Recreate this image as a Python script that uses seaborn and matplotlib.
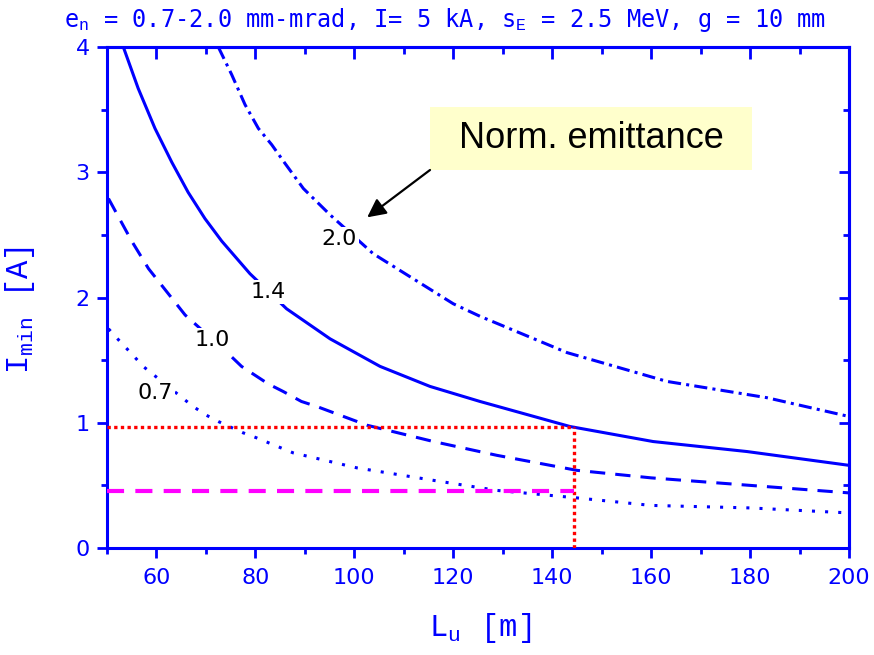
import numpy as np
import pandas as pd
import matplotlib
matplotlib.use("Agg")
import matplotlib.pyplot as plt
import seaborn as sns
from matplotlib.patches import Rectangle
from matplotlib.ticker import MultipleLocator

# ---- data ----
# normalized emittance 1.4 mm-mrad (solid)
L_14 = [53.3, 56.3, 59.7, 63.1, 66.4, 69.8, 73.2, 78.9, 86.3, 95.1, 105.2, 115.3, 125.4, 143.6, 160.4, 179.4, 200.0]
I_14 = [4.00, 3.67, 3.35, 3.08, 2.84, 2.63, 2.45, 2.19, 1.91, 1.67, 1.45, 1.29, 1.17, 0.97, 0.85, 0.77, 0.66]
# 2.0 (dash-dot)
L_20 = [72.5, 75.2, 77.9, 80.6, 83.3, 86.0, 89.7, 95.1, 103.8, 111.9, 120.0, 125.4, 143.0, 163.2, 183.4, 200.0]
I_20 = [4.00, 3.78, 3.54, 3.35, 3.22, 3.07, 2.87, 2.66, 2.35, 2.15, 1.95, 1.85, 1.56, 1.33, 1.20, 1.05]
# 1.0 (dashed)
L_10 = [50.3, 55.0, 58.4, 62.4, 65.8, 74.3, 77.2, 82.6, 85.6, 89.3, 92.4, 98.5, 102.6, 116.0, 128.8, 145.0, 160.0, 180.0, 200.0]
I_10 = [2.79, 2.45, 2.23, 2.03, 1.86, 1.56, 1.45, 1.31, 1.25, 1.17, 1.13, 1.04, 0.98, 0.85, 0.74, 0.62, 0.56, 0.50, 0.44]
# 0.7 (dotted)
L_07 = [50.3, 52.6, 55.0, 57.3, 67.4, 70.1, 72.5, 77.5, 80.2, 87.6, 100.5, 116.0, 128.8, 145.0, 160.0, 180.0, 200.0]
I_07 = [1.75, 1.65, 1.55, 1.45, 1.13, 1.06, 1.01, 0.92, 0.88, 0.76, 0.64, 0.54, 0.46, 0.40, 0.34, 0.32, 0.28]

# reference (operating point) lines
ref_L = [50.0, 144.5]
ref_I_red = [0.97, 0.97]
ref_I_mag = [0.455, 0.455]
ref_vert_L = [144.5, 144.5]
ref_vert_I = [0.0, 0.97]

# curve labels
label_texts = ["2.0", "1.4", "1.0", "0.7"]
label_L = [97.0, 82.5, 71.2, 59.7]
label_I = [2.47, 2.04, 1.66, 1.24]

x_ticks = [60, 80, 100, 120, 140, 160, 180, 200]
y_ticks = [0, 1, 2, 3, 4]

# ---- style ----
sns.set_style("ticks")
plt.rcParams["font.family"] = ["DejaVu Sans"]
plt.rcParams["mathtext.fontset"] = "custom"
plt.rcParams["mathtext.rm"] = "Liberation Mono"
plt.rcParams["mathtext.it"] = "Liberation Mono"

BLUE = "#0000FF"
fig = plt.figure(figsize=(8.74, 6.55), dpi=100)
ax = fig.add_axes([107/874, 1-548/655, (849-107)/874, (548-47)/655])

LW = 2.2
def curve(x, y, dashes, lw=LW, color=BLUE, cap="butt", z=3):
    sns.lineplot(x=x, y=y, ax=ax, color=color, lw=lw, sort=False, estimator=None)
    ln = ax.lines[-1]
    if dashes is not None:
        ln.set_dashes(dashes)
    ln.set_dash_capstyle(cap)
    ln.set_solid_capstyle("butt")
    ln.set_solid_joinstyle("round")
    ln.set_zorder(z)
    return ln

curve(L_14, I_14, None)
curve(L_20, I_20, (4.3, 1.7, 1.0, 1.7))
curve(L_10, I_10, (5.0, 3.3))
curve(L_07, I_07, (1.0, 3.3))

curve(ref_L, ref_I_red, (1.0, 1.0), lw=2.4, color="#FF0000", z=4)
curve(ref_vert_L, ref_vert_I, (1.0, 1.0), lw=2.4, color="#FF0000", z=4)
curve(ref_L, ref_I_mag, (4.1, 2.7), lw=3.0, color="#FF00FF", z=4)

for t, lx, ly in zip(label_texts, label_L, label_I):
    ax.text(lx, ly, t, fontsize=16, color="black", ha="center", va="center",
            bbox=dict(facecolor="white", edgecolor="none", pad=1.5), zorder=5)

ax.set_xlim(50, 200)
ax.set_ylim(0, 4)
ax.set_xticks(x_ticks)
ax.set_yticks(y_ticks)
ax.xaxis.set_minor_locator(MultipleLocator(10))
ax.yaxis.set_minor_locator(MultipleLocator(0.5))
ax.tick_params(which="major", direction="out", length=7.5, width=2.0, color=BLUE,
               labelcolor=BLUE, labelsize=16, top=False, right=False)
ax.tick_params(axis="x", which="major", pad=7)
ax.tick_params(axis="y", which="major", pad=5)
ax.tick_params(which="minor", direction="out", length=4.5, width=2.0, color=BLUE,
               top=False, right=False)
for s in ax.spines.values():
    s.set_visible(True)
    s.set_color(BLUE)
    s.set_linewidth(2.2)

sec_x = ax.secondary_xaxis("top")
sec_x.set_xticks(x_ticks)
sec_x.xaxis.set_minor_locator(MultipleLocator(10))
sec_x.tick_params(which="major", direction="in", length=8.5, width=2.0, color=BLUE, labeltop=False)
sec_x.tick_params(which="minor", direction="in", length=5, width=2.0, color=BLUE)
sec_x.spines["top"].set_color(BLUE)
sec_x.spines["top"].set_linewidth(2.2)
sec_y = ax.secondary_yaxis("right")
sec_y.set_yticks(y_ticks)
sec_y.yaxis.set_minor_locator(MultipleLocator(0.5))
sec_y.tick_params(which="major", direction="in", length=7.5, width=2.0, color=BLUE, labelright=False)
sec_y.tick_params(which="minor", direction="in", length=4, width=2.0, color=BLUE)
sec_y.spines["right"].set_color(BLUE)
sec_y.spines["right"].set_linewidth(2.2)

ax.set_xlabel(r"$\mathrm{L}_{\mathrm{u}}$  $\mathrm{[m]}$", fontsize=22, color=BLUE)
ax.set_ylabel(r"$\mathrm{I}_{\mathrm{min}}$  $\mathrm{[A]}$", fontsize=22, color=BLUE)
ax.xaxis.set_label_coords(0.503, -0.125)
ax.yaxis.set_label_coords(-0.094, 0.475)

fig.text(445/874, 1-27/655,
         r"e$_{\mathrm{n}}$ = 0.7-2.0 mm-mrad, I= 5 kA, s$_{\mathrm{E}}$ = 2.5 MeV, g = 10 mm",
         fontsize=17, color=BLUE, ha="center", va="baseline",
         family=["DejaVu Sans Mono", "DejaVu Sans"])

# annotation box
box_x0, box_x1 = 115.3, 180.4
box_y0, box_y1 = 3.018, 3.52
ax.add_patch(Rectangle((box_x0, box_y0), box_x1-box_x0, box_y1-box_y0,
                       facecolor="#FFFFCC", edgecolor="none", zorder=6, clip_on=False))
ax.text((box_x0+box_x1)/2, (box_y0+box_y1)/2, "Norm. emittance", fontsize=26,
        family=["Liberation Sans", "DejaVu Sans"], color="black",
        ha="center", va="center", zorder=7)
ax.annotate("", xy=(102.6, 2.64), xytext=(box_x0, box_y0),
            arrowprops=dict(arrowstyle="-|>", color="black", lw=1.6,
                            mutation_scale=28, shrinkA=0, shrinkB=0), zorder=7)

fig.savefig("out.png", dpi=100)
